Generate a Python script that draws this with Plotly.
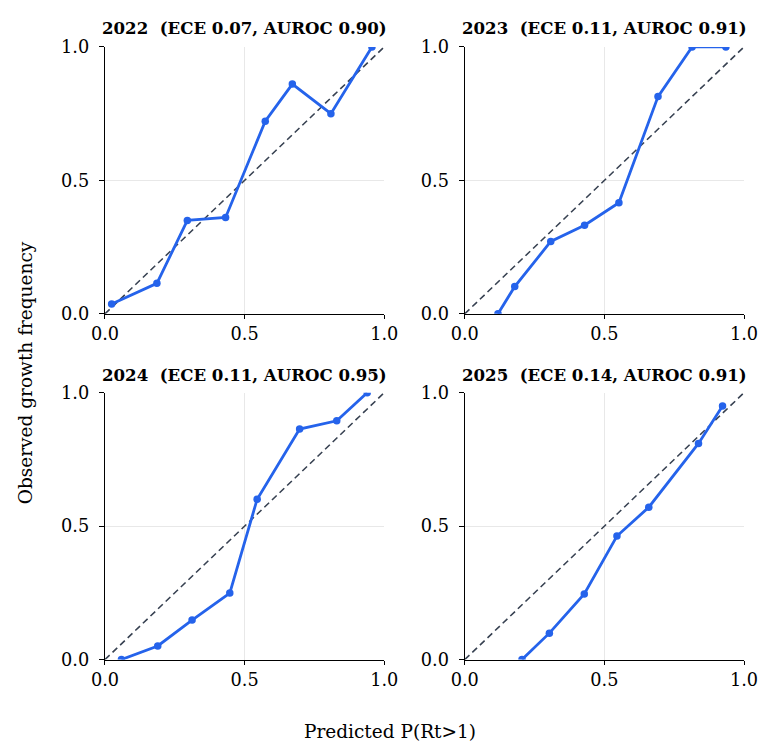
import plotly.graph_objects as go

x2022 = [0.024, 0.186, 0.295, 0.432, 0.574, 0.671, 0.809, 0.956]
y2022 = [0.037, 0.114, 0.350, 0.361, 0.722, 0.861, 0.750, 1.0]
x2023 = [0.119, 0.179, 0.308, 0.429, 0.552, 0.692, 0.814, 0.935]
y2023 = [0.0, 0.102, 0.271, 0.332, 0.416, 0.814, 1.0, 1.0]
x2024 = [0.059, 0.189, 0.312, 0.447, 0.545, 0.697, 0.830, 0.939]
y2024 = [0.0, 0.051, 0.148, 0.249, 0.601, 0.864, 0.895, 1.0]
x2025 = [0.205, 0.303, 0.428, 0.545, 0.659, 0.837, 0.923]
y2025 = [0.0, 0.099, 0.246, 0.463, 0.571, 0.810, 0.950]
titles = ["2022  (ECE 0.07, AUROC 0.90)", "2023  (ECE 0.11, AUROC 0.91)",
          "2024  (ECE 0.11, AUROC 0.95)", "2025  (ECE 0.14, AUROC 0.91)"]
tick_vals = [0.0, 0.5, 1.0]
tick_text = ["0.0", "0.5", "1.0"]

W, H = 780, 750
FONT = "DejaVu Serif"
# empirical page-to-screenshot mapping (screen = s * fig + o)
SX, OX = 0.97, 10.5
SY, OY = 0.974, 9.0


def px_x(p):
    return ((p - OX) / SX) / W


def px_y(p):
    return 1 - ((p - OY) / SY) / H


xdoms = [(px_x(102), px_x(383)), (px_x(464), px_x(745))]
ydoms = [(px_y(313), px_y(46)), (px_y(659), px_y(392))]
title_y = [px_y(27.5), px_y(374)]

series = [(x2022, y2022), (x2023, y2023), (x2024, y2024), (x2025, y2025)]

fig = go.Figure()
layout = dict(width=W, height=H, margin=dict(l=0, r=0, t=0, b=0),
              paper_bgcolor="white", plot_bgcolor="white", showlegend=False,
              font=dict(family=FONT, size=17, color="black"))
annotations = []
for i, (xs, ys) in enumerate(series):
    r, c = divmod(i, 2)
    n = i + 1
    xa = "x" if n == 1 else f"x{n}"
    ya = "y" if n == 1 else f"y{n}"
    fig.add_trace(go.Scatter(x=[0, 1], y=[0, 1], mode="lines", xaxis=xa, yaxis=ya,
                             line=dict(color="#374151", width=1.6, dash="6.5px,4px"),
                             hoverinfo="skip"))
    fig.add_trace(go.Scatter(x=xs, y=ys, mode="lines+markers", xaxis=xa, yaxis=ya,
                             line=dict(color="#2563eb", width=2.8),
                             marker=dict(color="#2563eb", size=7.5)))
    axcommon = dict(range=[0, 1], tickvals=tick_vals, ticktext=tick_text,
                    showgrid=True, gridcolor="#e8e8e8", gridwidth=1,
                    showline=True, linecolor="black", linewidth=1.4,
                    ticks="outside", tickwidth=1.4, tickcolor="black",
                    zeroline=False, tickfont=dict(family=FONT, size=17.7, color="black"))
    layout["xaxis" if n == 1 else f"xaxis{n}"] = dict(domain=list(xdoms[c]),
                                                      anchor=ya, ticklen=4,
                                                      ticklabelstandoff=0,
                                                      **axcommon)
    layout["yaxis" if n == 1 else f"yaxis{n}"] = dict(domain=list(ydoms[r]),
                                                      anchor=xa, ticklen=5,
                                                      ticklabelstandoff=6,
                                                      **axcommon)
    annotations.append(dict(text=f"<b>{titles[i]}</b>", xref="paper", yref="paper",
                            x=(xdoms[c][0] + xdoms[c][1]) / 2, y=title_y[r],
                            xanchor="center", yanchor="middle", showarrow=False,
                            font=dict(family=FONT, size=16.6, color="black")))

annotations.append(dict(text="Predicted P(Rt>1)", xref="paper", yref="paper",
                        x=px_x(389), y=px_y(731), xanchor="center", yanchor="middle",
                        showarrow=False, font=dict(family=FONT, size=18.5, color="black")))
annotations.append(dict(text="Observed growth frequency", xref="paper", yref="paper",
                        x=px_x(22), y=px_y(372), xanchor="center", yanchor="middle",
                        textangle=-90, showarrow=False,
                        font=dict(family=FONT, size=18.5, color="black")))
layout["annotations"] = annotations
fig.update_layout(**layout)
fig.write_html("out.html")
